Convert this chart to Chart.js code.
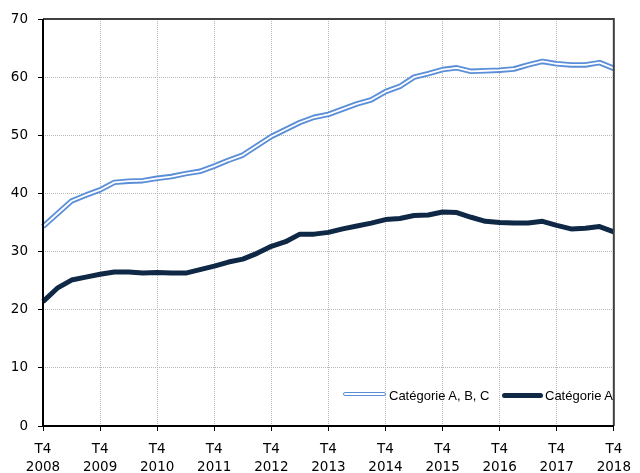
<!DOCTYPE html>
<html>
<head>
<meta charset="utf-8">
<script src="https://cdn.jsdelivr.net/npm/chart.js@4"></script>
<style>
    body { margin: 0; background: #fff; }
    #wrap { position: relative; width: 640px; height: 473px; }
    .leg { position: absolute; font: 13px "Liberation Sans", Arial, sans-serif; color: #000; white-space: nowrap; }
    .ico1 { position: absolute; left: 343px; top: 392px; width: 41px; height: 2px; border: 1.6px solid #5a8fd8; background: #fff; border-radius: 2px; }
    .ico2 { position: absolute; left: 502px; top: 393px; width: 41px; height: 5px; background: #0f2846; border-radius: 3px; }
</style>
</head>
<body>
<div id="wrap">
    <canvas id="myChart" width="640" height="473"></canvas>
    <div class="ico1"></div>
    <div class="leg" style="left:389px;top:388px">Catégorie A, B, C</div>
    <div class="ico2"></div>
    <div class="leg" style="left:545px;top:388px">Catégorie A</div>
</div>
<script>
// quarters, T4 2008 -> T4 2018
var quarters = ["T4 2008", "T1 2009", "T2 2009", "T3 2009", "T4 2009", "T1 2010", "T2 2010", "T3 2010",
    "T4 2010", "T1 2011", "T2 2011", "T3 2011", "T4 2011", "T1 2012", "T2 2012", "T3 2012",
    "T4 2012", "T1 2013", "T2 2013", "T3 2013", "T4 2013", "T1 2014", "T2 2014", "T3 2014",
    "T4 2014", "T1 2015", "T2 2015", "T3 2015", "T4 2015", "T1 2016", "T2 2016", "T3 2016",
    "T4 2016", "T1 2017", "T2 2017", "T3 2017", "T4 2017", "T1 2018", "T2 2018", "T3 2018", "T4 2018"];

var catABC = [34.3, 36.5, 38.7, 39.7, 40.6, 41.9, 42.1, 42.2, 42.6, 42.9, 43.4, 43.8, 44.7, 45.7,
    46.6, 48.2, 49.8, 51.0, 52.2, 53.1, 53.6, 54.5, 55.4, 56.1, 57.5, 58.4, 60.0, 60.6, 61.3,
    61.6, 61.0, 61.1, 61.2, 61.4, 62.1, 62.7, 62.3, 62.1, 62.1, 62.5, 61.5];

var catA = [21.4, 23.7, 25.1, 25.6, 26.1, 26.5, 26.5, 26.3, 26.4, 26.3, 26.3, 26.9, 27.5, 28.2,
    28.7, 29.7, 30.9, 31.7, 33.0, 33.0, 33.3, 33.9, 34.4, 34.9, 35.5, 35.7, 36.2, 36.3, 36.8,
    36.7, 35.9, 35.2, 35.0, 34.9, 34.9, 35.2, 34.5, 33.9, 34.0, 34.3, 33.4];

var yTicks = [0, 10, 20, 30, 40, 50, 60, 70];

var blue = "#5a8fd8";
var navy = "#0f2846";
var gridGrey = "#b8b8b8";

// box around the plot: black axes left/bottom, dark grey top/right
const framePlugin = {
    id: "frame",
    afterDraw(chart) {
        const ctx = chart.ctx;
        const a = chart.chartArea;
        ctx.save();
        ctx.lineWidth = 2;
        ctx.strokeStyle = "#404040";
        ctx.beginPath();
        ctx.moveTo(a.left, a.top);
        ctx.lineTo(a.right, a.top);
        ctx.lineTo(a.right, a.bottom);
        ctx.stroke();
        ctx.strokeStyle = "#000";
        ctx.beginPath();
        ctx.moveTo(a.left, a.top);
        ctx.lineTo(a.left, a.bottom);
        ctx.lineTo(a.right, a.bottom);
        ctx.stroke();
        ctx.restore();
    }
};

new Chart("myChart", {
    type: "line",
    data: {
        labels: quarters,
        datasets: [
            // lower order is drawn on top: white core over the blue one
            { label: "Catégorie A, B, C", data: catABC, borderColor: blue, borderWidth: 5.5, order: 2 },
            { label: "inner", data: catABC, borderColor: "#fff", borderWidth: 1.8, order: 1 },
            { label: "Catégorie A", data: catA, borderColor: navy, borderWidth: 5, order: 0 }
        ]
    },
    options: {
        responsive: false,
        animation: false,
        devicePixelRatio: 1,
        layout: { padding: { top: 19, right: 16, left: 0, bottom: 0 } },
        elements: {
            point: { radius: 0 },
            line: { tension: 0, borderJoinStyle: "round", borderCapStyle: "butt" }
        },
        plugins: {
            legend: { display: false },
            tooltip: { enabled: false }
        },
        scales: {
            x: {
                offset: false,
                afterFit: s => { s.height = 47; },
                border: { display: false, dash: [1, 1] },
                grid: {
                    color: c => (c.index % 4 === 0 ? gridGrey : "transparent"),
                    tickColor: c => (c.index % 4 === 0 ? "#000" : "transparent"),
                    tickLength: 5,
                    tickBorderDash: []
                },
                ticks: {
                    autoSkip: false,
                    maxRotation: 0,
                    padding: 9,
                    color: "#000",
                    font: { family: "DejaVu Sans", size: 13.5, lineHeight: 1.36 },
                    callback: function (v, i) {
                        return i % 4 === 0 ? quarters[i].split(" ") : "";
                    }
                }
            },
            y: {
                min: 0,
                max: 70,
                afterFit: s => { s.width = 43; },
                afterBuildTicks: s => { s.ticks = yTicks.map(v => ({ value: v })); },
                border: { display: false, dash: [1, 1] },
                grid: {
                    color: c => (c.tick && (c.tick.value === 0 || c.tick.value === 70) ? "transparent" : gridGrey),
                    tickColor: "#000",
                    tickLength: 5,
                    tickBorderDash: []
                },
                ticks: {
                    padding: 10,
                    color: "#000",
                    font: { family: "DejaVu Sans", size: 13.5 }
                }
            }
        }
    },
    plugins: [framePlugin]
});
</script>
</body>
</html>
